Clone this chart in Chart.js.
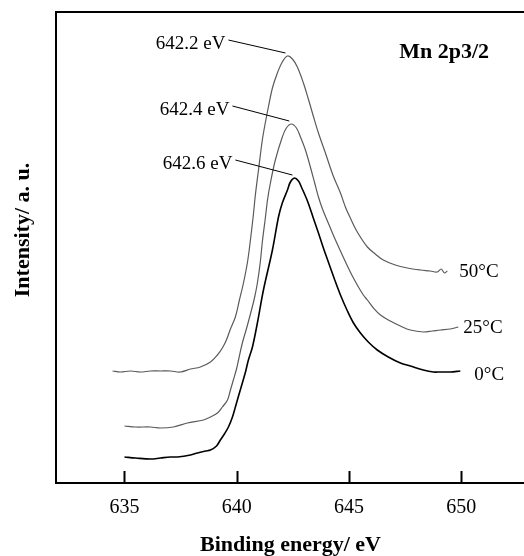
<!DOCTYPE html>
<html>
<head>
<meta charset="utf-8">
<script src="https://cdn.jsdelivr.net/npm/chart.js@4.4.0/dist/chart.umd.min.js"></script>
<style>
  html, body { margin: 0; padding: 0; background: #fff; overflow: hidden; }
  canvas { display: block; }
</style>
</head>
<body>
<canvas id="xpsChart" width="530" height="556"></canvas>
<script>
// Mn 2p3/2 spectra (intensity in a.u., stacked)
const seriesNames = ["50°C", "25°C", "0°C"];
const peakNotes = ["642.2 eV", "642.4 eV", "642.6 eV"];
const xTicks = [635, 640, 645, 650];

const energy50 = [634.47, 634.82, 635.27, 635.71, 636.16, 636.60, 637.05, 637.49, 637.94, 638.38,
    638.83, 639.14, 639.36, 639.54, 639.72, 639.94, 640.12, 640.30, 640.48, 640.61,
    640.74, 640.83, 640.97, 641.14, 641.28, 641.41, 641.59, 641.81, 642.03, 642.26,
    642.48, 642.70, 642.97, 643.19, 643.41, 643.64, 643.95, 644.30, 644.62, 644.84,
    645.06, 645.37, 645.82, 646.17, 646.53, 647.06, 647.60, 648.18, 648.62, 648.93,
    649.11, 649.25, 649.38];
const counts50 = [112, 111, 112, 111, 112, 112, 112, 111, 114, 116,
    121, 128, 135, 143, 154, 166, 183, 200, 221, 243,
    268, 288, 313, 343, 361, 376, 395, 410, 421, 427,
    424, 416, 400, 384, 367, 350, 330, 307, 290, 276,
    265, 251, 236, 229, 223, 218, 215, 213, 212, 211,
    214, 210, 212];

const energy25 = [635.00, 635.49, 636.16, 636.60, 637.18, 637.80, 638.52, 638.83, 639.14, 639.36,
    639.59, 639.72, 639.85, 639.99, 640.08, 640.25, 640.43, 640.61, 640.79, 640.92,
    641.05, 641.14, 641.28, 641.37, 641.50, 641.72, 642.03, 642.21, 642.43, 642.66,
    642.84, 643.06, 643.28, 643.46, 643.64, 643.82, 644.04, 644.30, 644.62, 644.93,
    645.15, 645.42, 645.64, 645.82, 646.09, 646.40, 646.84, 647.29, 647.73, 648.31,
    648.71, 649.07, 649.51, 649.87];
const counts25 = [57, 56, 56, 55, 56, 60, 63, 66, 70, 76,
    83, 93, 103, 114, 123, 140, 154, 169, 185, 200,
    221, 241, 266, 283, 300, 323, 346, 355, 359, 355,
    346, 333, 316, 301, 286, 274, 262, 248, 232, 217,
    207, 196, 188, 183, 175, 168, 162, 157, 153, 151,
    152, 153, 154, 156];

const energy0 = [635.00, 635.49, 636.16, 636.60, 637.05, 637.36, 637.94, 638.25, 638.61, 638.83,
    639.10, 639.27, 639.45, 639.63, 639.81, 639.94, 640.08, 640.25, 640.39, 640.52,
    640.70, 640.92, 641.19, 641.59, 641.86, 642.03, 642.26, 642.39, 642.57, 642.75,
    642.88, 643.15, 643.41, 643.64, 643.86, 644.08, 644.35, 644.62, 644.93, 645.20,
    645.51, 645.86, 646.26, 646.75, 647.29, 647.73, 648.31, 648.76, 649.07, 649.51,
    649.96];
const counts0 = [26, 25, 24, 25, 26, 26, 28, 30, 32, 33,
    37, 43, 49, 56, 66, 76, 87, 100, 111, 123,
    136, 160, 193, 233, 266, 280, 293, 301, 305, 302,
    296, 282, 265, 250, 235, 221, 204, 188, 172, 160,
    150, 141, 133, 126, 120, 117, 113, 111, 111, 111,
    112];

const serif = "'Liberation Serif', 'Times New Roman', serif";

// where the peak notes start (energy, intensity) and offsets of the temperature labels
const noteAnchors = [[639.63, 443], [639.81, 377], [639.94, 323]];
const tempLabelOffsets = [[12, 1], [5, 1], [14, 4]];

function toPoints(xs, ys) {
    return xs.map((x, i) => ({ x: x, y: ys[i] }));
}

const frameNotes = {
    id: "frameNotes",
    afterDatasetsDraw(chart) {
        const ctx = chart.ctx;
        const area = chart.chartArea;
        const xs = chart.scales.x;
        const ys = chart.scales.y;
        ctx.save();

        // frame
        ctx.strokeStyle = "#000";
        ctx.lineWidth = 2;
        ctx.strokeRect(area.left, area.top, area.right - area.left, area.bottom - area.top);

        // inward ticks
        xTicks.forEach(v => {
            const px = Math.round(xs.getPixelForValue(v)) + 0.5;
            ctx.beginPath();
            ctx.moveTo(px, area.bottom);
            ctx.lineTo(px, area.bottom - 12);
            ctx.stroke();
        });

        // peak notes with leader lines
        ctx.lineWidth = 1;
        ctx.font = "19px " + serif;
        ctx.fillStyle = "#000";
        ctx.textBaseline = "middle";
        ctx.textAlign = "right";
        chart.data.datasets.forEach((ds, i) => {
            const pts = chart.getDatasetMeta(i).data;
            let top = pts[0];
            pts.forEach(p => { if (p.y < top.y) top = p; });
            const sx = xs.getPixelForValue(noteAnchors[i][0]);
            const sy = ys.getPixelForValue(noteAnchors[i][1]);
            ctx.beginPath();
            ctx.moveTo(sx, sy);
            ctx.lineTo(top.x - 2, top.y - 3);
            ctx.stroke();
            ctx.fillText(peakNotes[i], sx - 3, sy + 4);
        });

        // temperature labels at the end of each trace
        ctx.textAlign = "left";
        chart.data.datasets.forEach((ds, i) => {
            const pts = chart.getDatasetMeta(i).data;
            const last = pts[pts.length - 1];
            ctx.fillText(seriesNames[i], last.x + tempLabelOffsets[i][0], last.y + tempLabelOffsets[i][1]);
        });

        // panel label
        ctx.font = "bold 22px " + serif;
        ctx.fillText("Mn 2p3/2", xs.getPixelForValue(647.24), ys.getPixelForValue(431));

        // y title
        ctx.translate(23, 230);
        ctx.rotate(-Math.PI / 2);
        ctx.textAlign = "center";
        ctx.fillText("Intensity/ a. u.", 0, 0);
        ctx.restore();
    }
};

const ctx = document.getElementById("xpsChart").getContext("2d");

new Chart(ctx, {
    type: "line",
    data: {
        datasets: [
            { label: seriesNames[0], data: toPoints(energy50, counts50), borderColor: "#5a5a5a", borderWidth: 1.2 },
            { label: seriesNames[1], data: toPoints(energy25, counts25), borderColor: "#5a5a5a", borderWidth: 1.2 },
            { label: seriesNames[2], data: toPoints(energy0, counts0), borderColor: "#000", borderWidth: 1.6 }
        ]
    },
    options: {
        responsive: false,
        animation: false,
        devicePixelRatio: 1,
        layout: { padding: { left: 56, top: 12, right: 5, bottom: 0 } },
        elements: {
            point: { radius: 0 },
            line: { tension: 0.35, fill: false }
        },
        plugins: {
            legend: { display: false },
            tooltip: { enabled: false }
        },
        scales: {
            x: {
                type: "linear",
                min: 631.95,
                max: 652.84,
                afterBuildTicks: scale => { scale.ticks = xTicks.map(v => ({ value: v })); },
                afterFit: scale => { scale.height = 73; },
                grid: { display: false, drawTicks: false },
                border: { display: false },
                ticks: {
                    color: "#000",
                    padding: 13,
                    font: { family: serif, size: 20, lineHeight: 1.2 }
                },
                title: {
                    display: true,
                    text: "Binding energy/ eV",
                    color: "#000",
                    padding: { top: 0, bottom: 0 },
                    font: { family: serif, size: 22, weight: "bold", lineHeight: 1 }
                }
            },
            y: {
                display: false,
                min: 0,
                max: 471
            }
        }
    },
    plugins: [frameNotes]
});
</script>
</body>
</html>
